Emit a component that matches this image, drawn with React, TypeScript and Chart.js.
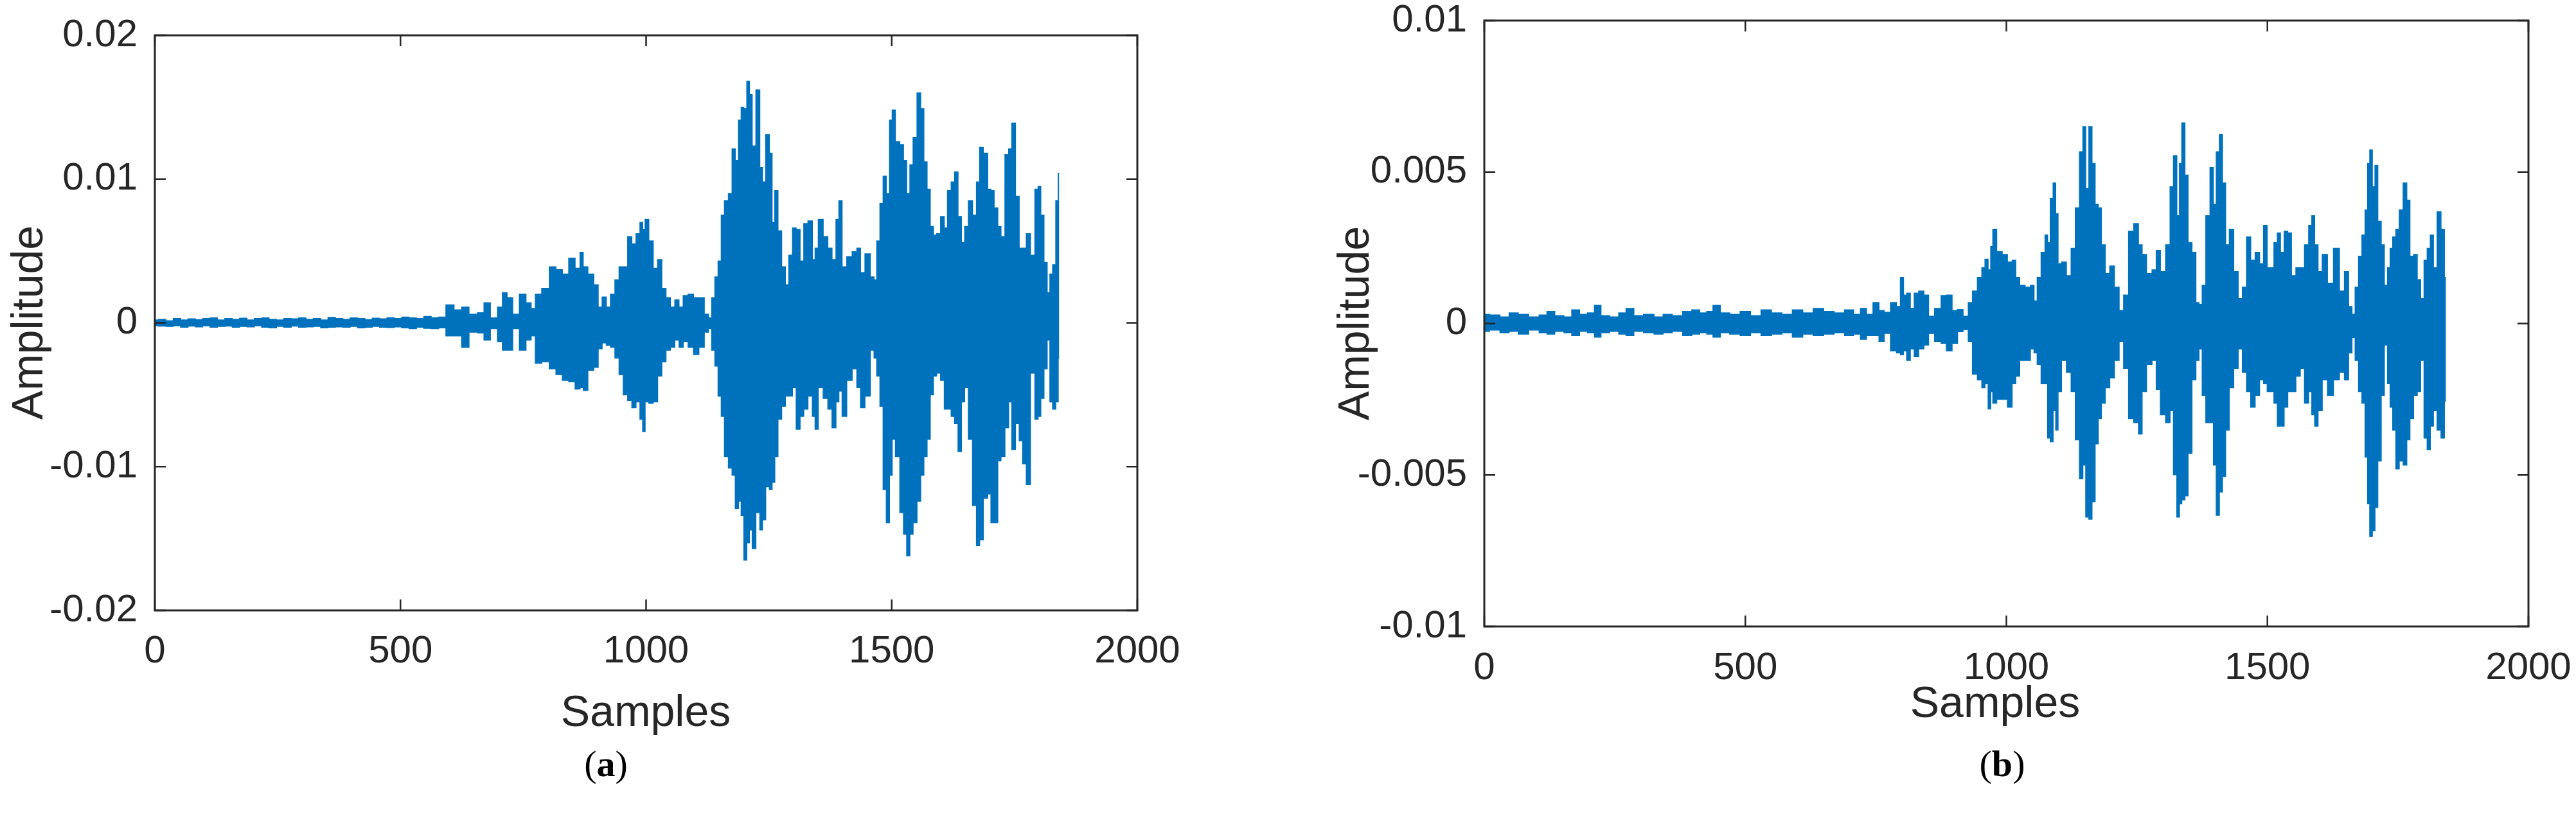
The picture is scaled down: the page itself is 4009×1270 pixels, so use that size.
import React, { useEffect, useRef } from 'react';
import { Chart, registerables } from 'chart.js';

Chart.register(...registerables);

// ---------- Data (amplitude values in units of 1e-3) ----------
// (a) sample positions of envelope readings
const samplesA = [
  0, 15, 30, 45, 60, 75, 90, 105, 120, 135, 150, 165, 180, 195, 210, 225, 240, 255, 270, 285,
  300, 315, 330, 345, 360, 375, 390, 405, 420, 435, 450, 465, 480, 495, 510, 525, 540, 555, 570,
  585, 600, 618, 631, 648, 666, 674, 692, 703, 712, 722, 735, 749, 762, 770, 779, 796, 810, 823,
  836, 849, 862, 869, 875, 888, 899, 906, 915, 923, 932, 941, 949, 958, 967, 975, 984, 991, 995,
  1001, 1010, 1019, 1028, 1036, 1045, 1054, 1063, 1071, 1080, 1091, 1102, 1113, 1124, 1130, 1137,
  1143, 1150, 1156, 1163, 1172, 1178, 1185, 1191, 1196, 1202, 1208, 1213, 1219, 1228, 1235, 1239,
  1248, 1254, 1259, 1265, 1272, 1280, 1287, 1294, 1302, 1309, 1318, 1324, 1335, 1342, 1346, 1355,
  1366, 1374, 1383, 1390, 1395, 1403, 1414, 1425, 1433, 1440, 1451, 1462, 1466, 1473, 1479, 1486,
  1492, 1499, 1503, 1512, 1521, 1527, 1534, 1540, 1547, 1556, 1562, 1569, 1575, 1582, 1588, 1595,
  1604, 1610, 1617, 1625, 1631, 1639, 1645, 1652, 1660, 1669, 1676, 1682, 1691, 1700, 1704, 1713,
  1719, 1726, 1735, 1741, 1748, 1756, 1763, 1770, 1778, 1787, 1796, 1800, 1807, 1813, 1820, 1824,
  1831, 1837, 1841,
];
const upperA = [
  0.2, 0.25, 0.15, 0.3, 0.2, 0.28, 0.22, 0.3, 0.35, 0.2, 0.3, 0.25, 0.32, 0.2, 0.3, 0.35, 0.25, 0.2, 0.3, 0.28,
  0.35, 0.25, 0.3, 0.2, 0.38, 0.3, 0.25, 0.35, 0.3, 0.22, 0.32, 0.28, 0.36, 0.3, 0.4, 0.35, 0.3, 0.45, 0.36,
  0.4, 1.25, 0.9, 1.1, 0.6, 0.7, 1.4, 0.35, 1.1, 2.1, 1.75, 0.6, 2.0, 1.4, 1.0, 2.0, 2.4, 3.9, 3.7,
  3.4, 4.5, 3.8, 4.9, 3.9, 3.4, 2.65, 1.1, 1.8, 1.1, 2.0, 3.0, 3.9, 3.9, 6.0, 5.5, 6.2, 7.0, 6.5,
  7.2, 5.7, 3.8, 4.4, 2.4, 1.75, 1.1, 1.6, 1.1, 1.9, 2.0, 1.75, 1.75, 0.6, 0.35, 1.75,
  3.2, 4.3, 7.5, 8.5, 9.0, 12.1, 11.3, 14.1, 15.0, 14.9, 16.8, 15.9, 12.3, 16.2, 10.8, 9.8,
  13.1, 11.8, 7.0, 9.2, 6.4, 3.9, 2.65, 4.7, 6.6, 6.5, 4.3, 6.9, 7.1, 4.4, 5.2, 7.2,
  6.0, 5.2, 4.4, 7.2, 8.5, 3.9, 4.6, 4.95, 5.2, 3.5, 4.8, 3.2, 3.0, 5.7, 8.3, 10.2,
  9.0, 14.1, 14.8, 12.6, 12.4, 11.3, 9.0, 11.0, 12.9, 16.0, 14.9, 11.2, 9.3, 6.7, 6.1, 6.2,
  7.4, 6.6, 9.2, 9.8, 10.5, 7.4, 5.6, 6.7, 8.5, 7.5, 9.8, 12.2, 11.8, 9.3, 9.2, 8.0,
  6.7, 6.0, 11.7, 12.1, 13.9, 8.8, 5.2, 5.2, 6.2, 4.7, 9.3, 9.5, 7.5, 4.2, 2.1, 3.4,
  4.05, 8.5, 10.4,
];
const lowerA = [
  -0.2, -0.22, -0.25, -0.2, -0.3, -0.22, -0.28, -0.2, -0.3, -0.25, -0.22, -0.3, -0.25, -0.28, -0.2, -0.3, -0.35, -0.25, -0.3, -0.22,
  -0.3, -0.28, -0.25, -0.35, -0.3, -0.28, -0.3, -0.25, -0.35, -0.3, -0.25, -0.3, -0.32, -0.28, -0.35, -0.4, -0.3, -0.38, -0.4,
  -0.35, -0.9, -0.9, -1.7, -0.65, -0.7, -1.2, -0.4, -1.3, -1.9, -1.9, -0.4, -1.9, -1.2, -0.9, -2.8, -2.7, -3.2, -3.6,
  -4.0, -4.1, -4.6, -4.5, -4.7, -3.3, -3.1, -1.8, -1.4, -1.55, -1.7, -2.45, -3.6, -5.0, -5.4, -5.9, -5.5, -6.7, -7.55,
  -5.5, -5.6, -5.5, -3.7, -2.7, -1.9, -1.7, -1.2, -1.7, -1.3, -1.7, -2.2, -1.7, -0.65, -0.4, -1.9,
  -3.0, -5.1, -6.5, -9.3, -10.1, -10.6, -12.9, -12.4, -13.4, -16.5, -15.3, -14.4, -15.7, -13.2, -14.4, -13.7,
  -11.4, -11.6, -11.1, -9.3, -6.7, -5.8, -5.1, -5.1, -4.5, -7.4, -6.5, -6.0, -5.1, -6.5, -7.4, -4.5,
  -5.25, -6.0, -7.3, -5.5, -4.75, -6.5, -4.0, -3.2, -4.5, -5.9, -5.1, -1.9, -2.45, -3.7, -5.8, -11.6,
  -13.9, -10.6, -8.1, -9.3, -13.2, -14.7, -16.2, -14.7, -13.9, -12.4, -10.6, -9.3, -8.1, -5.0, -3.7, -3.5,
  -4.0, -6.0, -6.0, -6.5, -7.0, -8.95, -5.5, -4.5, -8.1, -12.7, -15.5, -15.1, -12.2, -11.9, -13.9, -13.9,
  -9.6, -9.3, -7.3, -5.5, -8.8, -7.0, -8.2, -9.8, -11.25, -3.5, -6.7, -6.5, -5.25, -3.2, -1.2, -5.5,
  -6.0, -5.5, -2.45,
];

// (b) sample positions of envelope readings
const samplesB = [
  0, 20, 40, 55, 75, 95, 115, 125, 145, 160, 175, 190, 205, 217, 230, 250, 265, 278, 295, 315,
  335, 350, 370, 390, 405, 420, 432, 444, 460, 480, 500, 520, 540, 560, 580, 600, 620, 640, 660, 680,
  700, 715, 726, 738, 751, 761, 771, 785, 794, 800, 806, 812, 820, 827, 837, 847, 855, 870, 880, 890,
  902, 911, 923, 931, 939, 950, 956, 962, 968, 972, 976, 987, 997, 1007, 1015, 1021, 1030, 1042, 1050, 1056,
  1062, 1071, 1077, 1081, 1087, 1092, 1097, 1101, 1110, 1120, 1128, 1136, 1144, 1149, 1155, 1161, 1167, 1173, 1179, 1185,
  1194, 1202, 1212, 1220, 1229, 1239, 1249, 1257, 1263, 1274, 1284, 1290, 1300, 1310, 1317, 1323, 1330, 1333, 1339, 1345,
  1351, 1360, 1366, 1372, 1378, 1386, 1394, 1399, 1405, 1411, 1417, 1423, 1431, 1440, 1448, 1456, 1464, 1472, 1481, 1489,
  1496, 1503, 1509, 1516, 1522, 1528, 1536, 1542, 1550, 1559, 1567, 1575, 1583, 1587, 1594, 1600, 1610, 1620, 1633, 1643,
  1652, 1659, 1665, 1671, 1678, 1684, 1690, 1694, 1698, 1704, 1708, 1715, 1721, 1727, 1733, 1737, 1743, 1749, 1756, 1764,
  1770, 1776, 1784, 1790, 1797, 1803, 1809, 1815, 1821, 1829, 1836, 1842,
];
const upperB = [
  0.3, 0.28, 0.22, 0.35, 0.3, 0.22, 0.28, 0.4, 0.26, 0.22, 0.45, 0.3, 0.35, 0.6, 0.26, 0.22, 0.35, 0.5, 0.26, 0.3,
  0.22, 0.3, 0.26, 0.4, 0.45, 0.35, 0.4, 0.6, 0.35, 0.3, 0.4, 0.26, 0.45, 0.35, 0.3, 0.45, 0.35, 0.5, 0.4, 0.35,
  0.45, 0.3, 0.5, 0.3, 0.69, 0.43, 0.37, 0.69, 0.56, 1.52, 0.94, 1.0, 0.5, 1.0, 1.07, 0.94, 0.24, 0.5, 0.92, 0.94,
  0.43, 0.46, 0.24, 0.69, 1.07, 1.52, 1.84, 2.12, 1.77, 2.54, 3.11, 2.37, 2.28, 2.03, 2.09, 1.52, 1.26, 1.2, 1.26, 0.75,
  1.52, 2.35, 2.92, 2.67, 4.13, 4.64, 3.62, 1.97, 2.03, 1.58, 2.48, 3.82, 5.67, 6.5, 4.45, 6.5, 5.28, 3.94, 3.82, 2.6,
  1.65, 1.9, 1.2, 0.43, 0.94, 3.05, 3.3, 2.6, 2.28, 1.65, 1.77, 2.41, 1.71, 2.6, 4.52, 5.54, 3.56, 5.28, 6.62, 4.9,
  2.67, 2.35, 0.69, 0.63, 1.26, 3.56, 5.15, 3.94, 5.67, 6.24, 4.64, 2.6, 3.11, 1.71, 0.82, 1.2, 2.86, 2.09, 2.35, 1.97,
  3.24, 1.84, 1.84, 2.67, 2.99, 2.35, 3.05, 2.99, 1.58, 1.84, 1.84, 2.6, 3.24, 3.56, 2.6, 1.71, 2.28, 1.33, 2.48, 1.07,
  1.71, 0.56, 0.31, 1.2, 2.22, 2.92, 3.75, 5.28, 5.73, 4.52, 5.22, 3.37, 2.6, 1.26, 1.84, 2.48, 2.86, 3.11, 3.75, 4.64,
  4.07, 2.22, 2.28, 1.45, 0.82, 2.09, 2.48, 2.92, 1.84, 3.69, 3.11, 1.52,
];
const lowerB = [
  -0.26, -0.22, -0.3, -0.26, -0.35, -0.22, -0.3, -0.35, -0.26, -0.3, -0.4, -0.26, -0.3, -0.45, -0.3, -0.26, -0.35, -0.4, -0.26, -0.3,
  -0.35, -0.3, -0.26, -0.4, -0.35, -0.3, -0.35, -0.45, -0.3, -0.35, -0.4, -0.3, -0.4, -0.35, -0.3, -0.45, -0.35, -0.4, -0.35, -0.3,
  -0.4, -0.35, -0.52, -0.4, -0.4, -0.59, -0.33, -0.9, -0.97, -1.03, -0.9, -1.22, -0.84, -1.1, -0.84, -0.71, -0.33, -0.59, -0.65, -0.9,
  -0.65, -0.27, -0.2, -0.59, -1.67, -1.86, -2.12, -1.99, -2.82, -2.25, -2.63, -2.5, -2.5, -2.76, -1.99, -1.74, -1.22, -1.22, -0.84, -0.97,
  -1.35, -1.99, -1.99, -3.78, -3.9, -2.88, -3.52, -2.25, -1.22, -1.61, -2.25, -3.84, -5.12, -4.67, -6.39, -6.46, -5.88, -3.97, -3.14, -2.63,
  -2.12, -1.8, -1.22, -0.59, -1.48, -3.14, -3.27, -3.65, -2.25, -1.35, -1.22, -2.18, -3.01, -3.27, -2.88, -4.99, -6.39, -5.95, -5.82, -5.69,
  -4.29, -1.86, -1.22, -0.84, -2.37, -3.27, -3.27, -4.67, -6.33, -5.56, -5.05, -3.52, -2.12, -1.48, -0.84, -1.61, -2.25, -2.76, -2.37, -1.86,
  -1.99, -2.25, -2.25, -2.63, -3.39, -3.39, -2.76, -2.25, -2.25, -1.74, -1.48, -2.63, -2.25, -3.01, -3.39, -2.88, -1.86, -2.37, -1.86, -1.61,
  -1.86, -0.97, -0.46, -1.22, -2.25, -2.63, -4.41, -5.95, -7.03, -6.84, -6.07, -4.54, -2.37, -0.71, -1.99, -2.76, -3.52, -4.8, -4.54, -4.67,
  -3.84, -3.14, -2.37, -2.25, -1.22, -3.78, -4.16, -3.39, -2.88, -3.52, -3.78, -2.56,
];

// Axis ticks
const xTicks = [0, 500, 1000, 1500, 2000];
const yTicksA = [-0.02, -0.01, 0, 0.01, 0.02];
const yTicksB = [-0.01, -0.005, 0, 0.005, 0.01];

const BLUE = '#0072BD';
const AXIS = '#262626';
const FONT = "'Liberation Sans', Arial, Helvetica, sans-serif";

function toPoints(xs: number[], ys: number[]) {
  const n = Math.min(xs.length, ys.length);
  const out: { x: number; y: number }[] = [];
  for (let i = 0; i < n; i++) out.push({ x: xs[i], y: ys[i] / 1000 });
  return out;
}

const boxPlugin = {
  id: 'matlabBox',
  afterDraw(chart: any) {
    const { ctx, chartArea: a, scales } = chart;
    const xs = scales.x;
    const ys = scales.y;
    const tl = 17;
    ctx.save();
    ctx.strokeStyle = AXIS;
    ctx.lineWidth = 2.5;
    ctx.beginPath();
    xs.ticks.forEach((t: any) => {
      const p = xs.getPixelForValue(t.value);
      ctx.moveTo(p, a.bottom);
      ctx.lineTo(p, a.bottom - tl);
      ctx.moveTo(p, a.top);
      ctx.lineTo(p, a.top + tl);
    });
    ys.ticks.forEach((t: any) => {
      const p = ys.getPixelForValue(t.value);
      ctx.moveTo(a.left, p);
      ctx.lineTo(a.left + tl, p);
      ctx.moveTo(a.right, p);
      ctx.lineTo(a.right - tl, p);
    });
    ctx.stroke();
    ctx.lineWidth = 3;
    ctx.strokeRect(a.left, a.top, a.right - a.left, a.bottom - a.top);
    ctx.restore();
  },
};

type Cfg = {
  xs: number[];
  up: number[];
  lo: number[];
  yTicks: number[];
  yWidth: number;
  xHeight: number;
  padTop: number;
  padRight: number;
  xPad: number;
};

function makeChart(canvas: HTMLCanvasElement, c: Cfg) {
  const ymin = c.yTicks[0];
  const ymax = c.yTicks[c.yTicks.length - 1];
  return new Chart(canvas, {
    type: 'line',
    data: {
      datasets: [
        {
          data: toPoints(c.xs, c.up),
          borderColor: BLUE,
          backgroundColor: BLUE,
          borderWidth: 1.5,
          pointRadius: 0,
          fill: false,
          stepped: 'middle',
        },
        {
          data: toPoints(c.xs, c.lo),
          borderColor: BLUE,
          backgroundColor: BLUE,
          borderWidth: 1.5,
          pointRadius: 0,
          fill: '-1',
          stepped: 'middle',
        },
      ],
    },
    options: {
      animation: false,
      responsive: false,
      devicePixelRatio: 1,
      layout: { padding: { left: 0, top: c.padTop, right: c.padRight, bottom: 0 } },
      plugins: { legend: { display: false }, tooltip: { enabled: false }, title: { display: false } },
      scales: {
        x: {
          type: 'linear',
          min: xTicks[0],
          max: xTicks[xTicks.length - 1],
          grid: { display: false, drawTicks: false },
          border: { display: false },
          afterBuildTicks: (s: any) => {
            s.ticks = xTicks.map((v) => ({ value: v }));
          },
          afterFit: (s: any) => {
            s.height = c.xHeight;
            s.paddingLeft = 0;
            s.paddingRight = 0;
          },
          ticks: {
            autoSkip: false,
            maxRotation: 0,
            padding: c.xPad,
            color: AXIS,
            font: { family: FONT, size: 60, lineHeight: 1.2 },
            callback: (v: any) => String(v),
          },
        },
        y: {
          type: 'linear',
          min: ymin,
          max: ymax,
          grid: { display: false, drawTicks: false },
          border: { display: false },
          afterBuildTicks: (s: any) => {
            s.ticks = c.yTicks.map((v) => ({ value: v }));
          },
          afterFit: (s: any) => {
            s.width = c.yWidth;
            s.paddingTop = 0;
            s.paddingBottom = 0;
          },
          ticks: {
            autoSkip: false,
            padding: 27,
            color: AXIS,
            font: { family: FONT, size: 60, lineHeight: 1.2 },
            callback: (v: any) => String(parseFloat(Number(v).toFixed(4))),
          },
        },
      },
    },
    plugins: [boxPlugin],
  } as any);
}

function Label(props: { text: React.ReactNode; cx: number; top: number; size: number; rotate?: boolean; serif?: boolean }) {
  const w = 800;
  const style: React.CSSProperties = {
    position: 'absolute',
    left: props.cx - w / 2,
    top: props.top,
    width: w,
    height: props.size,
    lineHeight: props.size + 'px',
    fontSize: props.size,
    textAlign: 'center',
    fontFamily: props.serif ? "'Liberation Serif', 'Times New Roman', serif" : FONT,
    color: props.serif ? '#000' : AXIS,
    whiteSpace: 'nowrap',
    transform: props.rotate ? 'rotate(-90deg)' : undefined,
  };
  return <div style={style}>{props.text}</div>;
}

export default function App() {
  const refA = useRef<HTMLCanvasElement | null>(null);
  const refB = useRef<HTMLCanvasElement | null>(null);

  useEffect(() => {
    const a = makeChart(refA.current!, {
      xs: samplesA, up: upperA, lo: lowerA, yTicks: yTicksA,
      yWidth: 241, xHeight: 1270 - 950, padTop: 55, padRight: 2000 - 1770, xPad: 28,
    });
    const b = makeChart(refB.current!, {
      xs: samplesB, up: upperB, lo: lowerB, yTicks: yTicksB,
      yWidth: 310, xHeight: 1270 - 975, padTop: 32, padRight: 2009 - 1935, xPad: 29,
    });
    return () => {
      a.destroy();
      b.destroy();
    };
  }, []);

  return (
    <div style={{ position: 'absolute', left: 0, top: 0, width: 4009, height: 1270, background: '#fff', overflow: 'hidden' }}>
      <canvas ref={refA} width={2000} height={1270} style={{ position: 'absolute', left: 0, top: 0, width: 2000, height: 1270 }} />
      <canvas ref={refB} width={2009} height={1270} style={{ position: 'absolute', left: 2000, top: 0, width: 2009, height: 1270 }} />
      <Label text="Amplitude" cx={42} top={502 - 34} size={68} rotate />
      <Label text="Amplitude" cx={2106} top={503 - 34} size={68} rotate />
      <Label text="Samples" cx={1005} top={1072} size={68} />
      <Label text="Samples" cx={3105} top={1058} size={68} />
      <Label text={<span>(<b>a</b>)</span>} cx={943} top={1160} size={58} serif />
      <Label text={<span>(<b>b</b>)</span>} cx={3116} top={1160} size={58} serif />
    </div>
  );
}
